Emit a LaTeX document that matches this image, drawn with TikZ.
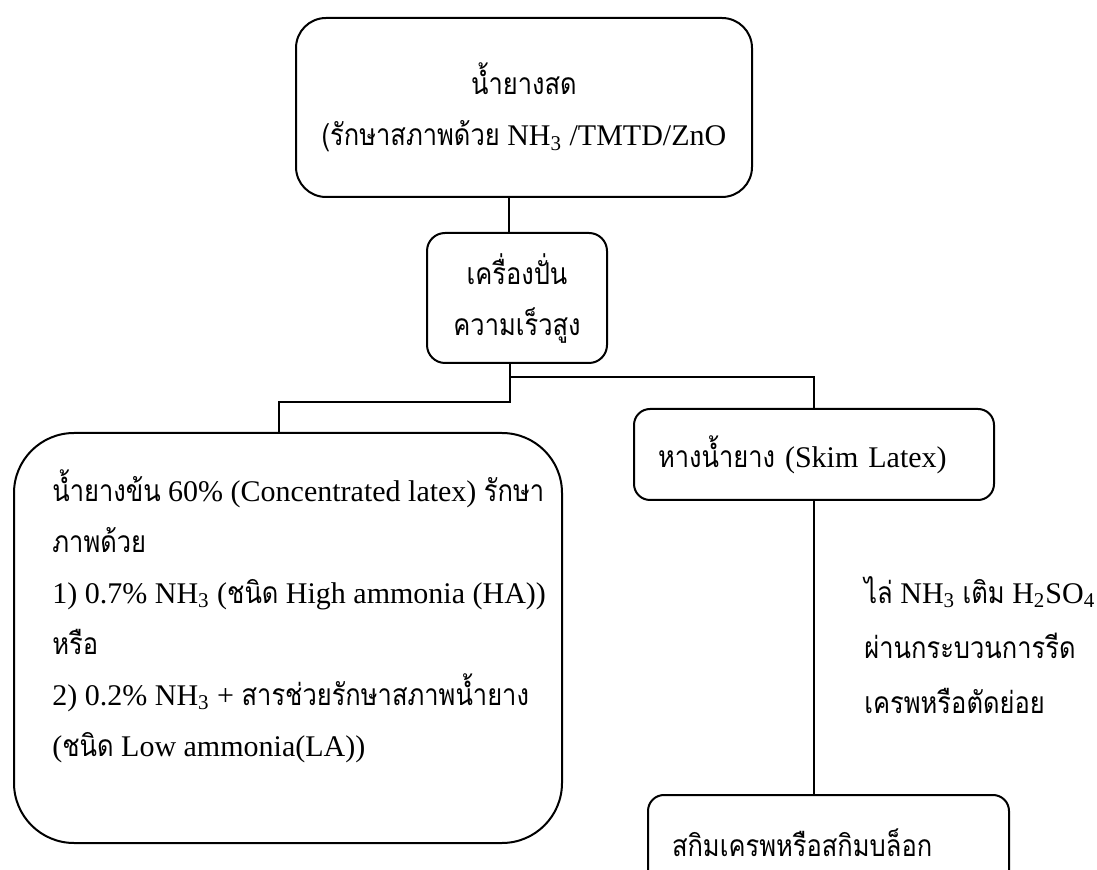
\documentclass[tikz,border=0pt]{standalone}
\usepackage{fontspec}
\setmainfont{Liberation Serif}
\newfontfamily\thaifont[Script=Thai, FakeStretch=0.85]{Loma}
\newcommand{\thai}[1]{{\thaifont #1}}

\begin{document}
\begin{tikzpicture}[x=0.5pt, y=-0.5pt,
    every node/.style={font=\fontsize{15}{25.5}\selectfont, inner sep=0pt},
    box/.style={draw, line width=1pt, rounded corners=8pt},
    link/.style={line width=1pt}]
    \useasboundingbox (0,0) rectangle (1097,870);
    % boxes
    \node[box, rounded corners=15pt, minimum width=228pt, minimum height=89.5pt, align=center] (fresh) at (524,107.5)
        {\thai{น้ำยางสด}\\\thai{(รักษาสภาพด้วย} NH\textsubscript{3} /TMTD/ZnO};
    \node[box, rounded corners=9pt, minimum width=90pt, minimum height=65pt, align=center] (spin) at (517,298)
        {\thai{เครื่องปั่น}\\\thai{ความเร็วสูง}};
    \node[box, rounded corners=30pt, minimum width=274pt, minimum height=205pt] (conc) at (288,638) {};
    \node[box, minimum height=45.5pt, inner xsep=12pt, text width=156pt, align=left] (skim) at (814,454.5)
        {\thai{หางน้ำยาง} (Skim Latex)};
    \node[box, minimum height=48pt, inner xsep=12pt, text width=156.5pt, align=left] (block) at (828.5,843)
        {\thai{สกิมเครพหรือสกิมบล็อก}};
    % texts
    \node[anchor=west, align=left] (conctext) at (52,616)
        {\thai{น้ำยางข้น} 60\% (Concentrated latex) \thai{รักษา}\\
         \thai{ภาพด้วย}\\
         1) 0.7\% NH\textsubscript{3} (\thai{ชนิด} High ammonia (HA))\\
         \thai{หรือ}\\
         2) 0.2\% NH\textsubscript{3} + \thai{สารช่วยรักษาสภาพน้ำยาง}\\
         (\thai{ชนิด} Low ammonia(LA))};
    \node[anchor=west, align=left, font=\fontsize{15}{27.5}\selectfont] (steps) at (864,645)
        {\thai{ไล่} NH\textsubscript{3} \thai{เติม} H\textsubscript{2}SO\textsubscript{4}\\
         \thai{ผ่านกระบวนการรีด}\\
         \thai{เครพหรือตัดย่อย}};
    % connectors
    \coordinate (spintop) at ([xshift=-4pt]spin.north);
    \coordinate (spinbot) at ([xshift=-3.5pt]spin.south);
    \draw[link] (spintop) -- (spintop |- fresh.south);
    \draw[link] (spinbot) -- ++(0,13) -| (skim.north);
    \draw[link] (spinbot) -- ++(0,38) -| ([xshift=-4.5pt]conc.north);
    \draw[link] (skim.south) -- (skim.south |- block.north);
\end{tikzpicture}
\end{document}
